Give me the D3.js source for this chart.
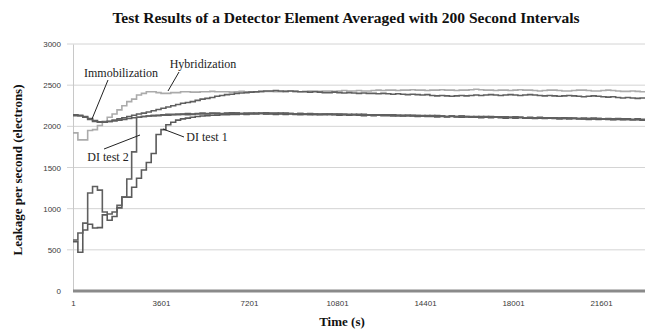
<!DOCTYPE html>
<html>
<head>
<meta charset="utf-8">
<script src="https://cdnjs.cloudflare.com/ajax/libs/d3/7.8.5/d3.min.js"></script>
<style>
  body { margin: 0; background: #fff; }
  svg text { font-family: "Liberation Serif", "Times New Roman", serif; }
  .tick text { font-family: "Liberation Sans", Arial, sans-serif; }
</style>
</head>
<body>
<div id="canvas"></div>
<script>
"use strict"

/* Data: one value per 200 second interval, starting at t = 1 s */
let stepSeconds = 200;
let xTicks = [1, 3601, 7201, 10801, 14401, 18001, 21601];
let yTicks = [0, 500, 1000, 1500, 2000, 2500, 3000];

let hybridization = [
    1920, 1835, 1835, 1950, 1960, 2010, 2060, 2110, 2150, 2200, 2250, 2300, 2330, 2380, 2400, 2420, 2420,
    2410, 2400, 2400, 2410, 2410, 2420, 2420, 2415, 2415, 2420, 2420, 2425, 2420, 2420,
    2420, 2415, 2420, 2425, 2420, 2420, 2415, 2420, 2425, 2425, 2420, 2420, 2425, 2430, 2425,
    2420, 2425, 2430, 2430, 2425, 2430, 2430, 2425, 2430, 2435, 2430, 2430, 2435, 2430, 2430,
    2435, 2440, 2435, 2440, 2440, 2435, 2440, 2440, 2445, 2440, 2440, 2435, 2440, 2440, 2445,
    2440, 2440, 2435, 2440, 2440, 2445, 2450, 2445, 2440, 2440, 2435, 2440, 2440, 2435, 2440,
    2445, 2440, 2440, 2435, 2430, 2435, 2440, 2440, 2435, 2430, 2430, 2435, 2440, 2440, 2435,
    2430, 2430, 2435, 2440, 2435, 2430, 2425, 2425, 2430, 2425, 2420
];

let immobilizationA = [
    2140, 2135, 2120, 2095, 2070, 2055, 2050, 2060, 2075, 2090, 2105, 2120, 2135, 2150, 2160, 2175, 2190,
    2205, 2220, 2235, 2250, 2265, 2280, 2290, 2300, 2315, 2330, 2340, 2350, 2365, 2375, 2385, 2390,
    2400, 2405, 2410, 2415, 2420, 2425,
    2430, 2430, 2435, 2430, 2425, 2430, 2425, 2420, 2420, 2415, 2420, 2415, 2410, 2410, 2415,
    2410, 2405, 2410, 2405, 2400, 2405, 2400, 2400, 2395, 2400, 2395, 2390, 2395, 2390, 2385, 2390, 2385,
    2380, 2385, 2375, 2370, 2375, 2370, 2365, 2370, 2375, 2370, 2375, 2380, 2375, 2380, 2385, 2380, 2375, 2380, 2385, 2380,
    2375, 2380, 2385, 2380, 2375, 2370, 2375, 2370, 2365, 2370, 2375, 2370, 2365, 2360, 2365,
    2370, 2365, 2360, 2355, 2360, 2350, 2345, 2350, 2345, 2340, 2345
];

let immobilizationB = [
    2130, 2125, 2110, 2085, 2060, 2050, 2052, 2058, 2065, 2075, 2085, 2095, 2105, 2110, 2120, 2125, 2130,
    2135, 2140, 2145, 2145, 2150, 2150, 2155, 2150, 2155, 2160, 2155, 2160, 2160, 2155, 2160, 2165,
    2160, 2155, 2160, 2160, 2155, 2160, 2165, 2160,
    2160, 2155, 2160, 2155, 2150, 2155, 2150, 2150, 2145, 2150,
    2150, 2145, 2150, 2145, 2145, 2140, 2145, 2140, 2145, 2140,
    2140, 2135, 2140, 2135, 2140, 2135, 2130, 2135, 2130, 2130,
    2125, 2130, 2125, 2130, 2125, 2120, 2125, 2120, 2125, 2120,
    2120, 2115, 2120, 2115, 2120, 2115, 2110, 2115, 2110, 2115,
    2110, 2105, 2110, 2105, 2110, 2105, 2100, 2105, 2100, 2105,
    2100, 2100, 2095, 2100, 2095, 2100, 2095, 2090, 2095, 2090,
    2095, 2090, 2090, 2085, 2090, 2085
];

let diTest1 = [
    600, 470, 740, 810, 765, 770, 925, 860, 905, 1010, 1140, 1140, 1260, 1370, 1470, 1560, 1670,
    1900, 1960, 2020, 2050, 2075, 2090, 2100, 2110, 2120,
    2125, 2130, 2135, 2135, 2140, 2140, 2145, 2145, 2150, 2145, 2150, 2150, 2155, 2150, 2150,
    2145, 2150, 2145, 2150, 2145, 2140, 2145, 2140, 2145, 2140,
    2140, 2145, 2140, 2135, 2140, 2135, 2140, 2135, 2130, 2135,
    2130, 2135, 2130, 2130, 2125, 2130, 2125, 2130, 2125, 2120,
    2125, 2120, 2120, 2115, 2120, 2115, 2120, 2115, 2110, 2115,
    2110, 2110, 2105, 2110, 2105, 2110, 2105, 2100, 2105, 2100,
    2105, 2100, 2100, 2095, 2100, 2095, 2100, 2095, 2090, 2095,
    2090, 2095, 2090, 2090, 2085, 2090, 2085, 2090, 2085, 2080,
    2085, 2080, 2085, 2080, 2080, 2075
];

let diTest2 = [
    620, 705, 825, 1190, 1270, 1225, 960, 935, 960, 1040, 1140, 1360, 1690, 2110, 2120, 2125, 2130,
    2130, 2135, 2135, 2140, 2140, 2145, 2140, 2145, 2150,
    2150, 2150, 2155, 2150, 2150, 2155, 2155, 2160, 2155, 2150, 2155, 2160, 2155, 2150, 2155,
    2155, 2160, 2155, 2155, 2150, 2155, 2150, 2155, 2150, 2145,
    2150, 2150, 2145, 2150, 2145, 2145, 2140, 2145, 2140, 2140,
    2135, 2140, 2135, 2140, 2135, 2130, 2135, 2130, 2135, 2130,
    2130, 2125, 2130, 2125, 2125, 2120, 2125, 2120, 2125, 2120,
    2115, 2120, 2115, 2120, 2115, 2110, 2115, 2110, 2110, 2105,
    2110, 2105, 2105, 2100, 2105, 2100, 2105, 2100, 2100, 2095,
    2100, 2095, 2095, 2090, 2095, 2090, 2095, 2090, 2090, 2085,
    2090, 2085, 2085, 2080, 2085, 2080
];

let seriesNames = ["Hybridization", "Immobilization A", "Immobilization B", "DI test 1", "DI test 2"];
let seriesValues = [hybridization, immobilizationA, immobilizationB, diTest1, diTest2];
let seriesColors = ["#ababab", "#5f5f5f", "#5f5f5f", "#5a5a5a", "#606060"];

/* Layout */
let svgWidth = 650;
let svgHeight = 331;
let margin = { top: 44, right: 5, bottom: 40, left: 73 };
let chartWidth = svgWidth - margin.left - margin.right;
let chartHeight = svgHeight - margin.top - margin.bottom;

let svg = d3.select("#canvas")
    .append("svg")
    .attr("width", svgWidth)
    .attr("height", svgHeight);

let xScale = d3.scaleLinear()
    .domain([1, 1 + stepSeconds * 117])
    .range([margin.left, margin.left + chartWidth]);

let yScale = d3.scaleLinear()
    .domain([0, 3000])
    .range([margin.top + chartHeight, margin.top]);

// horizontal gridlines
svg.append("g")
    .selectAll("line")
    .data(yTicks.filter(function(d) { return d > 0; }))
    .join("line")
    .attr("x1", margin.left - 6)
    .attr("x2", margin.left + chartWidth)
    .attr("y1", function(d) { return yScale(d); })
    .attr("y2", function(d) { return yScale(d); })
    .attr("stroke", "#d4d4d4")
    .attr("stroke-width", 1);

// y axis
let yAxis = d3.axisLeft(yScale)
    .tickValues(yTicks)
    .tickFormat(d3.format("d"))
    .tickSize(0)
    .tickPadding(12);

let yAxisG = svg.append("g")
    .attr("transform", "translate(" + margin.left + ",0)")
    .call(yAxis);
yAxisG.select(".domain").attr("stroke", "#c8c8c8");
yAxisG.selectAll(".tick text")
    .attr("font-size", 8)
    .attr("fill", "#3a3a3a");

// x axis
let xAxis = d3.axisBottom(xScale)
    .tickValues(xTicks)
    .tickFormat(d3.format("d"))
    .tickSize(0)
    .tickPadding(9);

let xAxisG = svg.append("g")
    .attr("transform", "translate(0," + yScale(0) + ")")
    .call(xAxis);
xAxisG.select(".domain").remove();
xAxisG.selectAll(".tick text")
    .attr("font-size", 8)
    .attr("fill", "#3a3a3a");

// thick zero line
svg.append("line")
    .attr("x1", margin.left)
    .attr("x2", margin.left + chartWidth)
    .attr("y1", yScale(0))
    .attr("y2", yScale(0))
    .attr("stroke", "#8a8a8a")
    .attr("stroke-width", 3);

// series as step lines
let line = d3.line()
    .x(function(d) { return xScale(d[0]); })
    .y(function(d) { return yScale(d[1]); })
    .curve(d3.curveStepAfter);

for (let s = 0; s < seriesValues.length; s++) {
    let values = seriesValues[s];
    let pts = [];
    for (let i = 0; i < values.length; i++) {
        pts.push([1 + i * stepSeconds, values[i]]);
    }
    pts.push([1 + values.length * stepSeconds, values[values.length - 1]]);

    svg.append("path")
        .datum(pts)
        .attr("d", line)
        .attr("fill", "none")
        .attr("stroke", seriesColors[s])
        .attr("stroke-width", 1.6)
        .attr("data-name", seriesNames[s]);
}

// callout labels
let callouts = [
    { text: "Immobilization", tx: 121, ty: 77, x1: 108, y1: 80, x2: 92, y2: 119 },
    { text: "Hybridization", tx: 203, ty: 68, x1: 179, y1: 72, x2: 168, y2: 91 },
    { text: "DI test 2", tx: 108, ty: 161, x1: 104, y1: 149, x2: 140, y2: 135 },
    { text: "DI test 1", tx: 207, ty: 141, x1: 184, y1: 137, x2: 163, y2: 129 }
];

for (let c = 0; c < callouts.length; c++) {
    let co = callouts[c];
    svg.append("line")
        .attr("x1", co.x1).attr("y1", co.y1)
        .attr("x2", co.x2).attr("y2", co.y2)
        .attr("stroke", "#222")
        .attr("stroke-width", 1);
    svg.append("text")
        .attr("x", co.tx)
        .attr("y", co.ty)
        .attr("text-anchor", "middle")
        .attr("font-size", 12)
        .attr("fill", "#222")
        .text(co.text);
}

// titles
svg.append("text")
    .attr("x", 346)
    .attr("y", 23)
    .attr("text-anchor", "middle")
    .attr("font-size", 15.5)
    .attr("font-weight", "bold")
    .attr("fill", "#111")
    .text("Test Results of a Detector Element Averaged with 200 Second Intervals");

svg.append("text")
    .attr("x", 342)
    .attr("y", 326)
    .attr("text-anchor", "middle")
    .attr("font-size", 13)
    .attr("font-weight", "bold")
    .attr("fill", "#111")
    .text("Time (s)");

svg.append("text")
    .attr("transform", "translate(22,170) rotate(-90)")
    .attr("text-anchor", "middle")
    .attr("font-size", 13)
    .attr("font-weight", "bold")
    .attr("fill", "#111")
    .text("Leakage per second (electrons)");
</script>
</body>
</html>
